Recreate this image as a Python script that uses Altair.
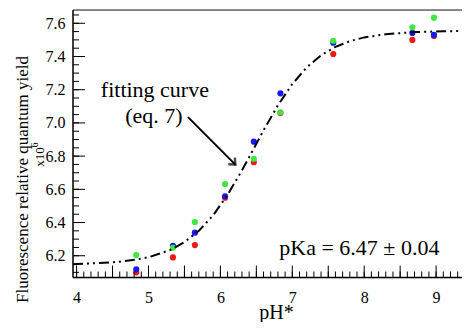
import altair as alt
import pandas as pd

# ---- data ----
ph = [4.83, 5.34, 5.645, 6.065, 6.465, 6.835, 7.57, 8.67, 8.97]
red = [6.100, 6.190, 6.264, 6.550, 6.763, 7.060, 7.415, 7.500, 7.524]
blue = [6.118, 6.260, 6.339, 6.558, 6.887, 7.178, 7.483, 7.542, 7.530]
green = [6.204, 6.248, 6.403, 6.632, 6.784, 7.064, 7.495, 7.576, 7.634]

fit_ph = [3.95, 4.5, 4.83, 5.0, 5.3, 5.5, 5.7, 5.9, 6.1, 6.3, 6.47, 6.6, 6.8,
          7.0, 7.2, 7.4, 7.6, 7.8, 8.0, 8.3, 8.7, 9.1, 9.5]
fit_val = [6.149, 6.160, 6.177, 6.191, 6.234, 6.282, 6.350, 6.444, 6.567, 6.714,
           6.850, 6.955, 7.106, 7.234, 7.334, 7.407, 7.458, 7.492, 7.515, 7.534,
           7.547, 7.552, 7.554]

arrow_ph = [5.55, 6.208]
arrow_val = [7.035, 6.749]

ann_text = ["fitting curve", "(eq. 7)", "pKa = 6.47 ± 0.04"]
ann_ph = [5.089, 5.075, 7.933]
ann_val = [7.156, 6.998, 6.204]

x_labels = [4, 5, 6, 7, 8, 9]
x_major = [4, 4.5, 5, 5.5, 6, 6.5, 7, 7.5, 8, 8.5, 9]
x_minor = [round(4 + 0.1 * i, 1) for i in range(54)]
y_major = [6.2, 6.4, 6.6, 6.8, 7.0, 7.2, 7.4, 7.6]
y_minor = [round(6.1 + 0.05 * i, 2) for i in range(32)]

series_names = ["red", "blue", "green"]
series_colors = ["#f01818", "#1818e8", "#3ee83e"]

rows = []
for name, vals in zip(series_names, [red, blue, green]):
    for p, v in zip(ph, vals):
        rows.append({"ph": p, "val": v, "series": name})
df_pts = pd.DataFrame(rows)
df_fit = pd.DataFrame({"ph": fit_ph, "val": fit_val})
df_arrow = pd.DataFrame({"ph": arrow_ph, "val": arrow_val})
df_ann = pd.DataFrame({"ph": ann_ph, "val": ann_val, "t": ann_text})

W, H = 389, 267.5
FONT = "Liberation Serif"
xs = alt.Scale(domain=[3.95, 3.95 + W / 71.9], nice=False, zero=False)
ys = alt.Scale(domain=[6.069, 7.68], nice=False, zero=False)

ax_x = alt.Axis(
    values=x_labels, ticks=False, domain=False, format="d", orient="bottom",
    labelPadding=12, labelFontSize=16, labelFont=FONT, labelColor="black", grid=False,
    title="pH*", titleFont=FONT, titleFontSize=20, titleFontWeight="normal",
    titleColor="black", titleX=203, titleY=35, titleBaseline="middle", titleAlign="center",
)
ax_y = alt.Axis(
    values=y_major, ticks=False, domain=False, format=".1f", orient="left",
    labelPadding=8, labelFontSize=16, labelFont=FONT, labelColor="black", grid=False,
    title="Fluorescence relative quantum yield", titleFont=FONT, titleFontSize=17,
    titleFontWeight="normal", titleColor="black", titleAngle=270, titleX=-51, titleY=169,
    titleAlign="center", titleBaseline="middle",
)


def X(field):
    return alt.X(field, scale=xs, axis=None)


def Y(field):
    return alt.Y(field, scale=ys, axis=None)


points = alt.Chart(df_pts).mark_circle(size=38, opacity=1).encode(
    x=alt.X("ph:Q", scale=xs, axis=ax_x),
    y=alt.Y("val:Q", scale=ys, axis=ax_y),
    color=alt.Color("series:N", scale=alt.Scale(domain=series_names, range=series_colors), legend=None),
)


# inward tick marks drawn through the scales
def xticks(vals, length):
    return alt.Chart(pd.DataFrame({"v": vals})).mark_rule(color="black", strokeWidth=1).encode(
        x=alt.X("v:Q", scale=xs, axis=None), y=alt.value(H), y2=alt.value(H - length))


def yticks(vals, length):
    return alt.Chart(pd.DataFrame({"v": vals})).mark_rule(color="black", strokeWidth=1).encode(
        y=alt.Y("v:Q", scale=ys, axis=None), x=alt.value(0), x2=alt.value(length))


one = pd.DataFrame({"a": [0]})
frame_bottom = alt.Chart(one).mark_rule(color="black", strokeWidth=1.5).encode(
    x=alt.value(0), x2=alt.value(W), y=alt.value(H))
frame_left = alt.Chart(one).mark_rule(color="black", strokeWidth=1.5).encode(
    x=alt.value(0), y=alt.value(0), y2=alt.value(H))
frame_top = alt.Chart(one).mark_rule(color="#666666", strokeWidth=1.5).encode(
    x=alt.value(0), x2=alt.value(W), y=alt.value(0))

curve = alt.Chart(df_fit).mark_line(
    color="black", strokeWidth=2, strokeDash=[10, 4, 2, 4, 2, 4], clip=True
).encode(x=X("ph:Q"), y=Y("val:Q"))

arrow_line = alt.Chart(df_arrow).mark_line(color="black", strokeWidth=2).encode(
    x=X("ph:Q"), y=Y("val:Q"))

arrow_head = alt.Chart(df_arrow.tail(1)).mark_point(
    shape="M -1 -0.9 L 0 0 L -1 0.9", angle=44, size=110, filled=False,
    stroke="black", strokeWidth=2.5,
).encode(x=X("ph:Q"), y=Y("val:Q"))

ann = alt.Chart(df_ann).mark_text(
    font=FONT, fontSize=22, color="black", align="center", baseline="alphabetic"
).encode(x=X("ph:Q"), y=Y("val:Q"), text="t:N")

x10 = alt.Chart(pd.DataFrame({"t": ["x10"]})).mark_text(
    font=FONT, fontSize=13, angle=270, color="black", align="center", baseline="middle"
).encode(text="t:N", x=alt.value(-33.5), y=alt.value(147))

sup6 = alt.Chart(pd.DataFrame({"t": ["6"]})).mark_text(
    font=FONT, fontSize=10, angle=270, color="black", align="center", baseline="middle"
).encode(text="t:N", x=alt.value(-38.5), y=alt.value(135))

chart = alt.layer(
    points, xticks(x_minor, 6), xticks(x_major, 12), yticks(y_minor, 6), yticks(y_major, 12),
    frame_top, frame_bottom, frame_left, curve, arrow_line, arrow_head, ann, x10, sup6
).resolve_axis(x="independent", y="independent").properties(
    width=W, height=H,
    autosize=alt.AutoSizeParams(type="none"),
    padding={"left": 65, "top": 2, "right": 0, "bottom": 44.5},
).configure_view(stroke=None).configure(background="white")

chart.save("out.html", embed_options={"renderer": "svg", "actions": False})
